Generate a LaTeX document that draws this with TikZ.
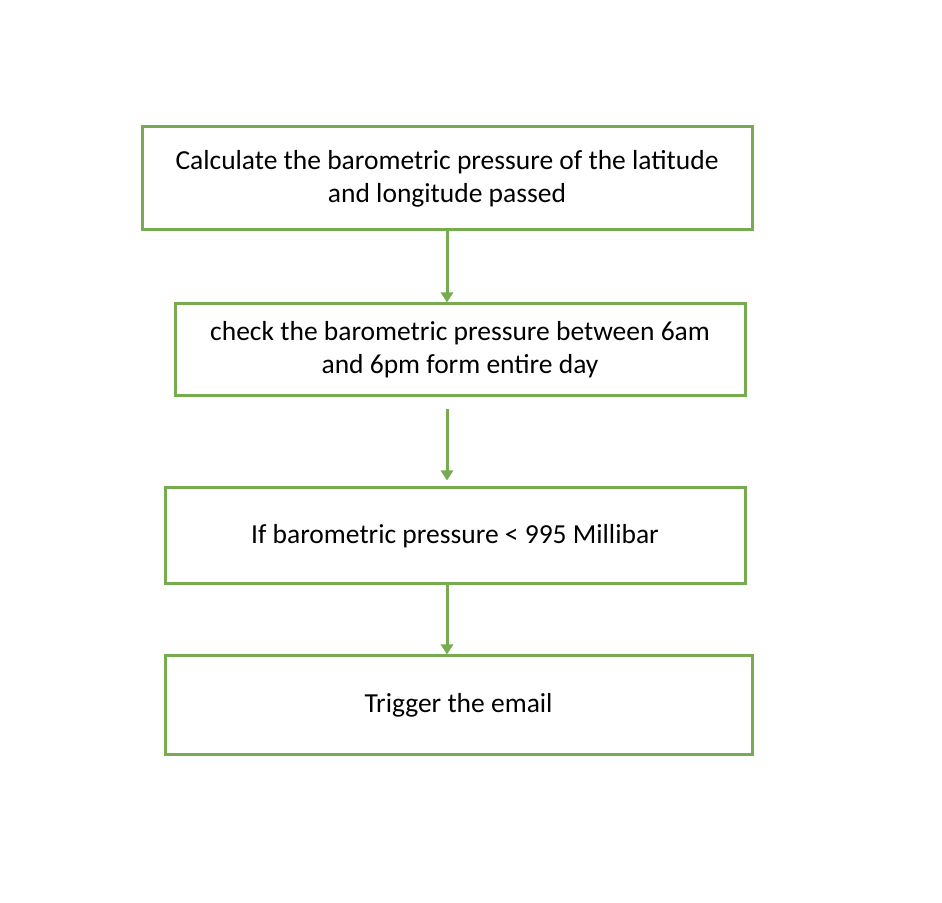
\documentclass[tikz,border=0pt]{standalone}
\usepackage{fontspec}
\setmainfont{Carlito}
\usepackage{xcolor}
\usetikzlibrary{arrows.meta}
\usetikzlibrary{calc}

\definecolor{stepgreen}{HTML}{76AB4F}

\begin{document}
\begin{tikzpicture}[x=1pt,y=1pt,
    stepbox/.style={draw=stepgreen, line width=3pt, align=center,
      font=\fontsize{27.5}{33}\selectfont, inner sep=0pt},
    flow/.style={draw=stepgreen, line width=3pt,
      -{Triangle[width=12pt,length=10pt]}}]
        \useasboundingbox (0,0) rectangle (942,902);
        \node[stepbox, minimum width=610pt, minimum height=103pt] (calc) at (447,723.5)
          {Calculate the barometric pressure of the latitude\\and longitude passed};
        \node[stepbox, minimum width=570pt, minimum height=92pt] (check) at (460,552)
          {check the barometric pressure between 6am\\and 6pm form entire day};
        \node[stepbox, minimum width=580pt, minimum height=96pt] (cond) at (455,366)
          {If barometric pressure < 995 Millibar};
        \node[stepbox, minimum width=587pt, minimum height=99pt] (mail) at (458.5,196.5)
          {Trigger the email};

        \draw[flow] (calc.south) -- (check.north -| calc.south);
        \draw[flow, shorten <=12pt, shorten >=6pt] (check.south -| calc.south) -- (cond.north -| calc.south);
        \draw[flow] (cond.south -| calc.south) -- (mail.north -| calc.south);
      \end{tikzpicture}
\end{document}
